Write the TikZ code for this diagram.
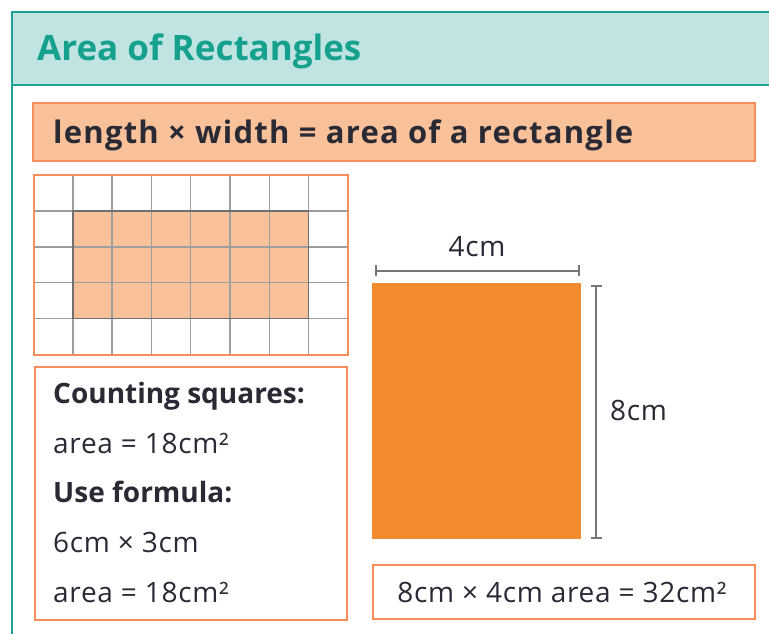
\documentclass[tikz,border=0pt]{standalone}
\usepackage{fontspec}
\setmainfont{Open Sans}
\usetikzlibrary{arrows.meta}
\definecolor{tealline}{HTML}{1BA393}
\definecolor{headfill}{HTML}{BFE4E2}
\definecolor{titleteal}{HTML}{16A08E}
\definecolor{orline}{HTML}{F58E5A}
\definecolor{orlight}{HTML}{F8C19A}
\definecolor{orstrong}{HTML}{F28A2E}
\definecolor{gridgray}{HTML}{9E9E9E}
\definecolor{darkgray2}{HTML}{707070}
\definecolor{txt}{HTML}{2A2A35}
\definecolor{dimgray}{HTML}{777777}
\begin{document}
\begin{tikzpicture}[x=1pt,y=-1pt,
  bodytext/.style={anchor=base west, inner sep=0pt, text=txt, font=\fontsize{28}{30}\selectfont\addfontfeature{LetterSpace=2.5}},
  boldtext/.style={anchor=base west, inner sep=0pt, text=txt, font=\fontsize{28}{30}\selectfont\bfseries},
  labeltext/.style={inner sep=0pt, text=txt, font=\fontsize{28}{30}\selectfont\addfontfeature{LetterSpace=2.5}},
  orbox/.style={draw=orline, line width=2pt},
  dimline/.style={draw=dimgray, line width=2pt, {Bar[width=11pt,line width=2pt]}-{Bar[width=11pt,line width=2pt]}}
]
\useasboundingbox (0,0) rectangle (769,634);
\fill[white] (0,0) rectangle (769,634);
% outer frame and header
\begin{scope}
\clip (0,0) rectangle (769,634);
\filldraw[fill=headfill, draw=tealline, line width=2.5pt] (12,12) rectangle (800,85);
\draw[tealline, line width=2.5pt] (12,12) -- (12,700);
\end{scope}
\node[anchor=base west, inner sep=0pt, text=titleteal, font=\fontsize{35}{40}\selectfont\bfseries] (title) at (37,61) {Area of Rectangles};
% formula banner
\filldraw[fill=orlight, orbox] (33,103) rectangle (755,161);
\node[anchor=base west, inner sep=0pt, text=txt, font=\fontsize{31}{34}\selectfont\bfseries\addfontfeature{LetterSpace=4}] (formula) at (53,143) {length × width = area of a rectangle};
% grid
\fill[orlight] (72.8,211.2) rectangle (308.6,318.3);
\foreach \i in {1,...,7} {
  \draw[gridgray, line width=1.5pt] ({33.5+39.3*\i},175.5) -- ({33.5+39.3*\i},354);
}
\foreach \j in {1,...,4} {
  \draw[gridgray, line width=1.5pt] (33.5,{175.5+35.7*\j}) -- (347.9,{175.5+35.7*\j});
}
\draw[darkgray2, line width=1.5pt] (72.8,211.2) rectangle (308.6,318.3);
\draw[orbox] (33.5,175) rectangle (347.9,354.5);
% text box
\draw[orbox] (35,367) rectangle (347,620);
\node[boldtext] (t1) at (53,403) {Counting squares:};
\node[bodytext] (t2) at (53,453) {area = 18cm²};
\node[boldtext] (t3) at (53,502) {Use formula:};
\node[bodytext] (t4) at (53,552) {6cm × 3cm};
\node[bodytext] (t5) at (53,602) {area = 18cm²};
% big rectangle
\node[fill=orstrong, draw=none, minimum width=209pt, minimum height=256pt, inner sep=0pt] (big) at (476.5,411) {};
\coordinate (hl) at ([xshift=3pt,yshift=12pt]big.north west);
\coordinate (hr) at ([xshift=-1pt,yshift=12pt]big.north east);
\coordinate (vt) at ([xshift=15pt,yshift=-2pt]big.north east);
\coordinate (vb) at ([xshift=15pt]big.south east);
\draw[dimline] (hl) -- (hr);
\draw[dimline] (vt) -- (vb);
\node[labeltext, anchor=base] (w) at (477,256) {4cm};
\node[labeltext, anchor=base west] (h) at (610,420) {8cm};
% bottom box
\draw[orbox] (373,565) rectangle (755,619);
\node[labeltext, anchor=base] (res) at (562,602) {8cm × 4cm area = 32cm²};
\end{tikzpicture}
\end{document}
